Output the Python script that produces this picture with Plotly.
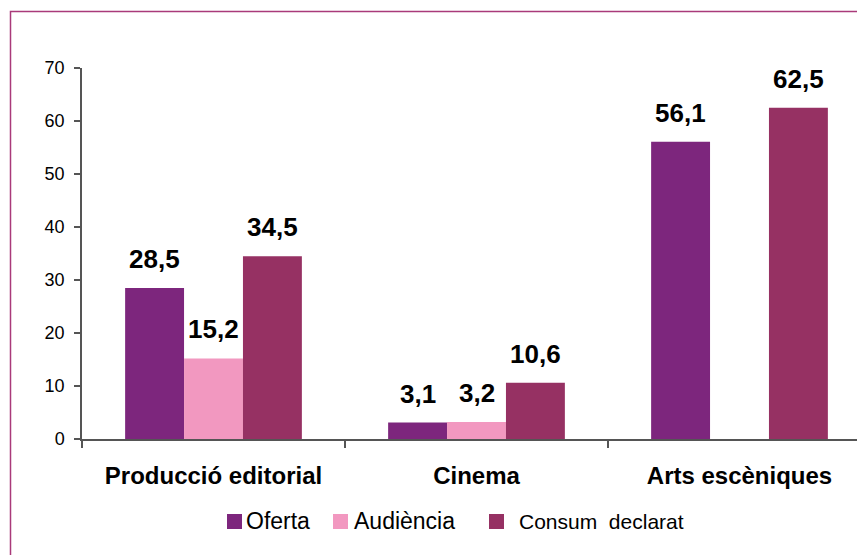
import plotly.graph_objects as go

# Data
categories = ["Producció editorial", "Cinema", "Arts escèniques"]
series_names = ["Oferta", "Audiència", "Consum  declarat"]
oferta = [28.5, 3.1, 56.1]
audiencia = [15.2, 3.2, None]
consum = [34.5, 10.6, 62.5]
y_ticks = [0, 10, 20, 30, 40, 50, 60, 70]

colors = ["#7D267D", "#F298C0", "#963163"]
series_values = [oferta, audiencia, consum]

# Plot-area geometry in pixels (used to place the hand-built legend / frame)
W, H = 857, 555
PL, PT, PB = 82, 68, 439
PR = W
pw, ph = PR - PL, PB - PT


def px_x(x):
    return (x - PL) / pw


def px_y(y):
    return (PB - y) / ph


bar_w = 0.224
offsets = [-bar_w, 0.0, bar_w]
FONT = "Arial, 'Liberation Sans', sans-serif"

fig = go.Figure()
annotations = []
for name, vals, col, off in zip(series_names, series_values, colors, offsets):
    xs = [i + off for i in range(len(categories))]
    fig.add_trace(go.Bar(
        x=xs, y=vals, width=bar_w, name=name,
        marker=dict(color=col, line=dict(width=0)),
        showlegend=False, hoverinfo="y",
    ))
    for x, v in zip(xs, vals):
        if v is None:
            continue
        annotations.append(dict(
            x=x, y=v, xref="x", yref="y",
            text=f"{v:.1f}".replace(".", ","),
            showarrow=False, yanchor="middle", yshift=29,
            font=dict(family=FONT, size=26, color="#000000", weight="bold"),
        ))

# Legend drawn by hand: colour squares plus labels
legend_items = [
    (227, 244, 23),
    (333, 352, 23),
    (489, 517, 21),
]
shapes = []
for (mx, tx, fs), name, col in zip(legend_items, series_names, colors):
    shapes.append(dict(
        type="rect", xref="paper", yref="paper",
        x0=px_x(mx), x1=px_x(mx + 15), y0=px_y(529), y1=px_y(514),
        fillcolor=col, line=dict(width=0),
    ))
    annotations.append(dict(
        x=px_x(tx), y=px_y(521), xref="paper", yref="paper",
        xanchor="left", yanchor="middle", showarrow=False,
        text=name.replace("  ", "&nbsp; "),
        font=dict(family=FONT, size=fs, color="#000000"),
    ))

# Outer frame
shapes.append(dict(
    type="rect", xref="paper", yref="paper",
    x0=px_x(10.5), x1=px_x(900), y0=px_y(600), y1=px_y(11.5),
    line=dict(color="#A93A7A", width=1.5), fillcolor="rgba(0,0,0,0)",
    layer="below",
))

fig.update_layout(
    width=W, height=H,
    margin=dict(l=PL, r=W - PR, t=PT, b=H - PB),
    paper_bgcolor="white", plot_bgcolor="white",
    barmode="overlay",
    font=dict(family=FONT, color="#000000"),
    shapes=shapes, annotations=annotations,
    xaxis=dict(
        range=[-0.5, -0.5 + pw / 263.0],
        tickvals=list(range(len(categories))), ticktext=categories,
        ticks="", ticklabelstandoff=14,
        tickfont=dict(family=FONT, size=24, color="#000000", weight="bold"),
        showline=True, linecolor="#555555", linewidth=1.5,
        showgrid=False, zeroline=False,
        minor=dict(tickvals=[-0.5, 0.5, 1.5, 2.5], ticks="outside",
                   ticklen=7, tickcolor="#555555", tickwidth=1.5,
                   showgrid=False),
    ),
    yaxis=dict(
        range=[0, 70], tickvals=y_ticks,
        ticks="outside", ticklen=6, tickcolor="#555555", tickwidth=1.5,
        ticklabelstandoff=6,
        tickfont=dict(family=FONT, size=18, color="#000000"),
        showline=True, linecolor="#555555", linewidth=1.5,
        showgrid=False, zeroline=False,
    ),
)

fig.write_html("out.html")
